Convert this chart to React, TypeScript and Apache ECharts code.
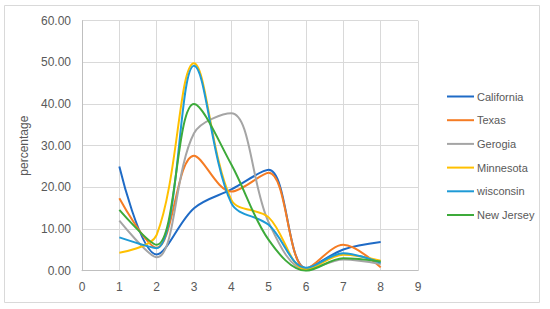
import React, { useEffect, useRef } from "react";
import * as echarts from "echarts";

const xValues = [1, 2, 3, 4, 5, 6, 7, 8];
const seriesNames = ["California", "Texas", "Gerogia", "Minnesota", "wisconsin", "New Jersey"];
const california = [25.0, 3.9, 15.0, 19.5, 24.2, 0.6, 5.1, 6.9];
const texas = [17.4, 5.5, 27.6, 19.0, 23.5, 0.5, 6.2, 0.8];
const gerogia = [12.0, 3.2, 33.0, 37.8, 11.6, 0.2, 2.7, 1.6];
const minnesota = [4.3, 8.6, 49.8, 17.0, 12.8, 0.3, 3.8, 2.4];
const wisconsin = [8.0, 5.4, 49.2, 16.2, 11.0, 0.7, 4.2, 1.9];
const newJersey = [14.6, 6.2, 40.0, 25.5, 7.4, 0.0, 3.0, 2.2];
const seriesValues = [california, texas, gerogia, minnesota, wisconsin, newJersey];
const colors = ["#1F6BC6", "#F57C24", "#A5A5A5", "#FFC000", "#1E9AD6", "#3DAA3A"];

export default function App() {
  const ref = useRef<HTMLDivElement>(null);
  useEffect(() => {
    document.body.style.margin = "0";
    if (!ref.current) return;
    const chart = echarts.init(ref.current, null, { renderer: "svg" });
    const font = "Liberation Sans";
    chart.setOption({
      animation: false,
      backgroundColor: "#ffffff",
      graphic: [
        {
          type: "rect",
          shape: { x: 4.5, y: 5.5, width: 535, height: 297 },
          style: { fill: "none", stroke: "#d9d9d9", lineWidth: 1 },
          silent: true,
        },
      ],
      grid: { left: 82, right: 132, top: 20.7, bottom: 38.3 },
      xAxis: {
        type: "value",
        min: 0,
        max: 9,
        interval: 1,
        axisLine: { show: true, lineStyle: { color: "#bfbfbf", width: 1 } },
        axisTick: { show: false },
        splitLine: { show: true, lineStyle: { color: "#d9d9d9", width: 1 } },
        axisLabel: { color: "#595959", fontFamily: font, fontSize: 12, margin: 10 },
      },
      yAxis: {
        type: "value",
        min: 0,
        max: 60,
        interval: 10,
        name: "percentage",
        nameLocation: "middle",
        nameGap: 49,
        nameTextStyle: { color: "#595959", fontFamily: font, fontSize: 12 },
        axisLine: { show: true, lineStyle: { color: "#bfbfbf", width: 1 } },
        axisTick: { show: false },
        splitLine: { show: true, lineStyle: { color: "#d9d9d9", width: 1 } },
        axisLabel: {
          color: "#595959",
          fontFamily: font,
          fontSize: 12,
          margin: 11,
          formatter: (v: number) => v.toFixed(2),
        },
      },
      legend: {
        orient: "vertical",
        left: 442,
        top: 86,
        itemWidth: 27,
        itemHeight: 14,
        itemGap: 12.7,
        icon: "path://M0,6 L27,6 L27,8 L0,8 Z",
        textStyle: { color: "#595959", fontFamily: font, fontSize: 11, padding: [0, 0, 0, -2] },
        data: seriesNames,
      },
      series: seriesNames.map((name, i) => ({
        name,
        type: "line",
        smooth: 0.35,
        symbol: "none",
        showSymbol: false,
        color: colors[i],
        lineStyle: { width: 2, color: colors[i] },
        data: xValues.map((x, j) => [x, seriesValues[i][j]]),
      })),
    });
    return () => chart.dispose();
  }, []);
  return <div ref={ref} style={{ width: 550, height: 309 }} />;
}
